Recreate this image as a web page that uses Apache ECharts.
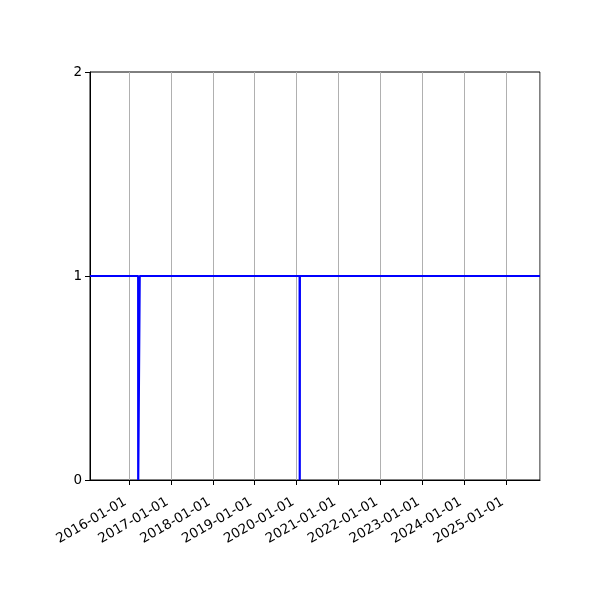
<!DOCTYPE html>
<html>
<head>
<meta charset="utf-8">
<script src="https://cdn.jsdelivr.net/npm/echarts@6/dist/echarts.min.js"></script>
<style>
    html, body { margin: 0; padding: 0; background: #fff; }
    #chart { width: 600px; height: 600px; }
</style>
</head>
<body>
<div id="chart"></div>
<script>
// step readings
var dates = [
    "2015-01-26", "2016-03-21", "2016-03-21T12:00", "2016-04-03", "2016-04-03T12:00",
    "2020-01-28", "2020-01-29", "2020-01-30", "2025-10-24"
];
var values = [1, 1, 0, 0, 1, 1, 0, 1, 1];

var xMin = "2015-01-26";
var xMax = "2025-10-24";
var yTicks = [0, 1, 2];

var DAY = 86400000;

var points = [];
for (var i = 0; i < dates.length; i++) {
    points.push([dates[i], values[i]]);
}

var chart = echarts.init(document.getElementById("chart"));
chart.setOption({
    animation: false,
    grid: {
        left: 90,
        right: 60,
        top: 72,
        bottom: 120,
        show: true,
        borderColor: "#000",
        borderWidth: 1,
    },
    xAxis: {
        type: "time",
        min: xMin,
        max: xMax,
        minInterval: 365 * DAY,
        maxInterval: 366 * DAY,
        axisLine: { show: true, lineStyle: { color: "#000", width: 1 } },
        axisTick: { show: true, length: 5, lineStyle: { color: "#000" } },
        splitLine: { show: true, lineStyle: { color: "#b0b0b0", width: 1 } },
        axisLabel: {
            formatter: "{yyyy}-{MM}-{dd}",
            rotate: 30,
            color: "#000",
            fontSize: 13.5,
            fontFamily: "DejaVu Sans",
            margin: 19,
            padding: [0, 4, 0, 0],
            hideOverlap: false,
            showMinLabel: false,
            showMaxLabel: false,
        },
    },
    yAxis: {
        type: "value",
        min: yTicks[0],
        max: yTicks[yTicks.length - 1],
        interval: 1,
        axisLine: { show: true, lineStyle: { color: "#000", width: 1 } },
        axisTick: { show: true, length: 5, lineStyle: { color: "#000" } },
        splitLine: { show: false },
        axisLabel: {
            color: "#000",
            fontSize: 13.5,
            fontFamily: "DejaVu Sans",
            margin: 8,
        },
    },
    series: [
        {
            type: "line",
            data: points,
            showSymbol: false,
            lineStyle: { color: "#0000ff", width: 2.2 },
            itemStyle: { color: "#0000ff" },
            clip: true,
        },
    ],
});
</script>
</body>
</html>
